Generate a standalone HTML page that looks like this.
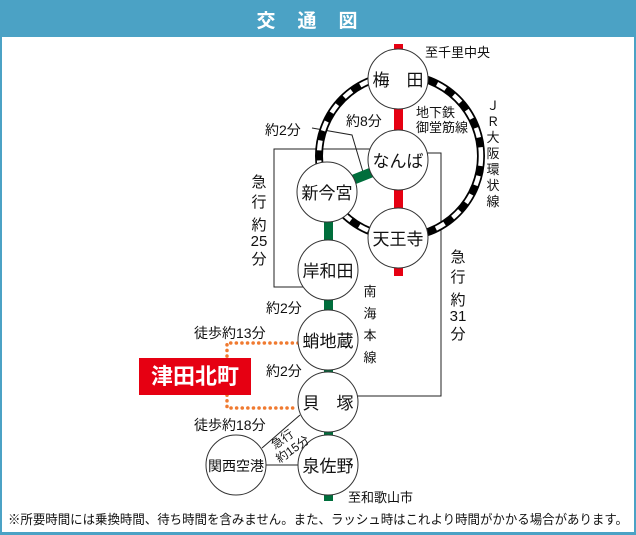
<!DOCTYPE html>
<html><head><meta charset="utf-8"><style>
body{margin:0;width:636px;height:535px;overflow:hidden;background:#fff}
svg{display:block}
text{font-family:"Liberation Sans","Noto Sans CJK JP",sans-serif;fill:#111}
</style></head><body>
<svg width="636" height="535" viewBox="0 0 636 535">
<rect x="0" y="0" width="636" height="535" fill="#4ba2c5"/>
<rect x="2" y="37" width="632" height="495" fill="#fff"/>
<text x="318" y="27" text-anchor="middle" font-size="19" font-weight="bold" style="fill:#fff" letter-spacing="22">交通図</text>

<polyline points="380,149 274,149 274,287 310,287" fill="none" stroke="#222" stroke-width="1"/>
<polyline points="425,153 441,153 441,396 350,396" fill="none" stroke="#222" stroke-width="1"/>
<polyline points="312,128 352,135 363,172" fill="none" stroke="#222" stroke-width="1"/>

<rect x="394" y="44" width="9" height="232" fill="#e60012"/>
<rect x="324" y="215" width="9" height="286" fill="#006e3c"/>
<line x1="340" y1="185" x2="385" y2="167" stroke="#006e3c" stroke-width="10"/>

<circle cx="400" cy="156" r="81" fill="none" stroke="#000" stroke-width="8"/>
<circle cx="400" cy="156" r="81" fill="none" stroke="#fff" stroke-width="4.5" stroke-dasharray="10 10"/>

<line x1="262" y1="448" x2="300" y2="415" stroke="#222" stroke-width="1"/>
<line x1="266" y1="465" x2="298" y2="465" stroke="#222" stroke-width="1"/>

<polyline points="298,343 227,343 227,408 298,408" fill="none" stroke="#f07a30" stroke-width="3.5" stroke-dasharray="0.1 5.5" stroke-linecap="round"/>

<g fill="#fff" stroke="#333" stroke-width="1">
<circle cx="398" cy="79" r="30"/>
<circle cx="398" cy="160" r="30"/>
<circle cx="327" cy="192" r="30"/>
<circle cx="398" cy="238" r="30"/>
<circle cx="328" cy="270" r="30"/>
<circle cx="328" cy="340" r="30"/>
<circle cx="328" cy="402" r="30"/>
<circle cx="328" cy="465" r="30"/>
<circle cx="236" cy="465" r="30"/>
</g>
<g font-size="17" text-anchor="middle">
<text x="398" y="86">梅　田</text>
<text x="398" y="167">なんば</text>
<text x="327" y="199">新今宮</text>
<text x="398" y="245">天王寺</text>
<text x="328" y="277">岸和田</text>
<text x="328" y="347">蛸地蔵</text>
<text x="328" y="409">貝　塚</text>
<text x="328" y="472">泉佐野</text>
<text x="236" y="471" font-size="14">関西空港</text>
</g>

<rect x="139" y="358" width="112" height="37" fill="#e60012"/>
<text x="195" y="384" text-anchor="middle" font-size="22" font-weight="bold" style="fill:#fff">津田北町</text>

<g font-size="13">
<text x="425" y="57">至千里中央</text>
<text x="416" y="117">地下鉄</text>
<text x="416" y="132">御堂筋線</text>
<text x="346" y="126" font-size="14">約8分</text>
<text x="265" y="135" font-size="14">約2分</text>
<text x="194" y="338" font-size="14">徒歩約13分</text>
<text x="194" y="430" font-size="14">徒歩約18分</text>
<text x="266" y="313" font-size="14">約2分</text>
<text x="266" y="376" font-size="14">約2分</text>
<text x="348" y="502">至和歌山市</text>
</g>
<g font-size="13" text-anchor="middle">
<text x="493" y="110">Ｊ</text><text x="493" y="126">Ｒ</text><text x="493" y="142">大</text><text x="493" y="158">阪</text><text x="493" y="174">環</text><text x="493" y="190">状</text><text x="493" y="206">線</text>
<text x="370" y="296">南</text><text x="370" y="318">海</text><text x="370" y="340">本</text><text x="370" y="362">線</text>
</g>
<g font-size="15" text-anchor="middle">
<text x="259" y="187">急</text><text x="259" y="207">行</text><text x="259" y="230">約</text><text x="259" y="246">25</text><text x="259" y="264">分</text>
<text x="458" y="262">急</text><text x="458" y="282">行</text><text x="458" y="305">約</text><text x="458" y="321">31</text><text x="458" y="339">分</text>
</g>
<g font-size="12" transform="rotate(-35 290 445)">
<text x="275" y="440">急行</text>
<text x="271" y="454">約15分</text>
</g>
<text x="8" y="524" font-size="13" textLength="620" lengthAdjust="spacingAndGlyphs">※所要時間には乗換時間、待ち時間を含みません。また、ラッシュ時はこれより時間がかかる場合があります。</text>
</svg>
</body></html>
